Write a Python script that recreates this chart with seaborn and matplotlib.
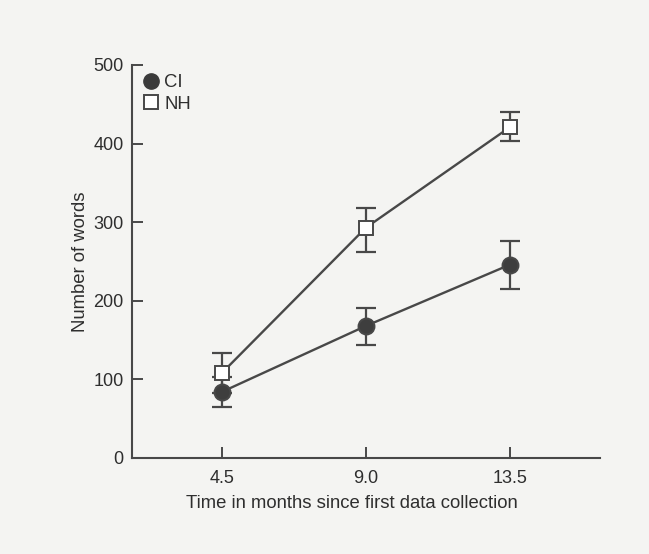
import matplotlib
matplotlib.use("Agg")
import matplotlib.pyplot as plt
import seaborn as sns
import pandas as pd
import numpy as np
from matplotlib.lines import Line2D

# Data
months = [4.5, 9.0, 13.5]
ci_mean = [84, 168, 246]
ci_low = [65, 144, 215]
ci_high = [103, 191, 276]
nh_mean = [108, 293, 421]
nh_low = [83, 262, 403]
nh_high = [134, 318, 440]
groups = ["CI", "NH"]
x_ticks = [4.5, 9.0, 13.5]
x_ticklabels = ["4.5", "9.0", "13.5"]
y_ticks = [0, 100, 200, 300, 400, 500]

sns.set_theme(style="ticks")
plt.rcParams['font.family'] = ['Liberation Sans', 'DejaVu Sans']

bg = "#f4f4f2"
ink = "#2e2e2e"
line_c = "#484848"

df = pd.DataFrame({
    "month": months * 2,
    "words": ci_mean + nh_mean,
    "group": [groups[0]] * 3 + [groups[1]] * 3,
})

fig = plt.figure(figsize=(6.49, 5.54), dpi=100, facecolor=bg)
ax = fig.add_axes([0.203, 0.1733, 0.7215, 0.7094])
ax.set_facecolor(bg)

for g, mean, lo, hi, mk, fc in [
    ("CI", ci_mean, ci_low, ci_high, "o", "#3e3e3e"),
    ("NH", nh_mean, nh_low, nh_high, "s", "white"),
]:
    sub = df[df.group == g]
    yerr = np.array([np.array(mean) - np.array(lo), np.array(hi) - np.array(mean)])
    ax.errorbar(months, mean, yerr=yerr, fmt="none", ecolor=line_c,
                elinewidth=1.6, capsize=7, capthick=1.6, zorder=2)
    sns.lineplot(data=sub, x="month", y="words", ax=ax, color=line_c,
                 linewidth=1.7, marker=mk, markersize=11.5 if mk == "o" else 10.5,
                 markerfacecolor=fc, markeredgecolor=line_c, markeredgewidth=1.4,
                 zorder=3, legend=False)

ax.set_xlim(1.69, 16.31)
ax.set_ylim(0, 500)
ax.set_xticks(x_ticks)
ax.set_xticklabels(x_ticklabels)
ax.set_yticks(y_ticks)
ax.tick_params(direction="in", length=8, width=1.4, colors=line_c,
               labelcolor=ink, labelsize=13, pad=9)
ax.tick_params(axis="y", pad=6)
for s in ["top", "right"]:
    ax.spines[s].set_visible(False)
for s in ["left", "bottom"]:
    ax.spines[s].set_color(line_c)
    ax.spines[s].set_linewidth(1.5)

ax.set_xlabel("Time in months since first data collection", fontsize=13.3, color=ink, labelpad=5)
ax.xaxis.set_label_coords(0.47, -0.094)
ax.set_ylabel("Number of words", fontsize=13.3, color=ink, labelpad=3)

handles = [
    Line2D([], [], linestyle="none", marker="o", markersize=11,
           markerfacecolor="#3a3a3a", markeredgecolor="#3a3a3a"),
    Line2D([], [], linestyle="none", marker="s", markersize=10,
           markerfacecolor="white", markeredgecolor=line_c, markeredgewidth=1.4),
]
leg = ax.legend(handles, groups, loc="upper left", bbox_to_anchor=(0.01, 0.995),
                frameon=False, fontsize=13.3, handlelength=0.8, handletextpad=0.3,
                labelspacing=0.25, borderaxespad=0.2, borderpad=0.2)
for t in leg.get_texts():
    t.set_color(ink)

fig.savefig("out.png", dpi=100, facecolor=bg)
